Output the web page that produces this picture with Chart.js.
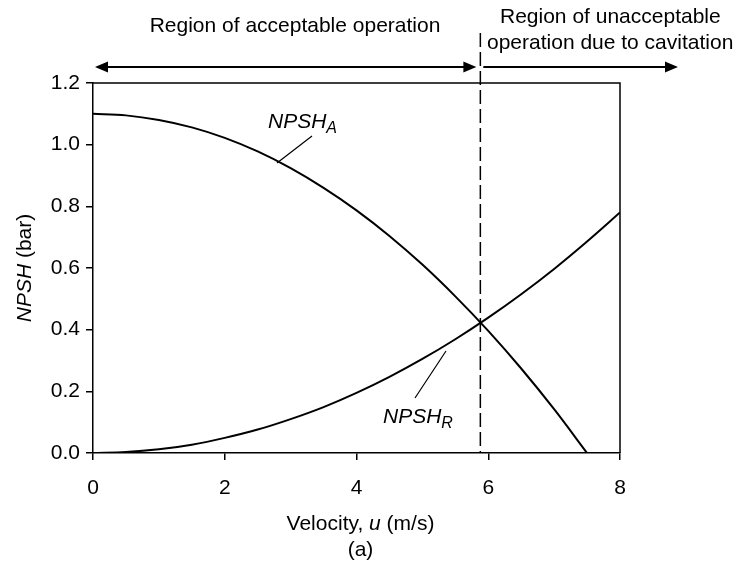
<!DOCTYPE html>
<html>
<head>
<meta charset="utf-8">
<script src="https://cdn.jsdelivr.net/npm/chart.js@4.4.0/dist/chart.umd.min.js"></script>
<style>
html,body{margin:0;padding:0;background:#fff;}
#wrap{width:750px;height:564px;position:relative;}
</style>
</head>
<body>
<div id="wrap"><canvas id="c" width="750" height="564"></canvas></div>
<script>
// Velocity (m/s)
const velocity = [0, 0.5, 1, 1.5, 2, 2.5, 3, 3.5, 4, 4.5, 5, 5.5, 6, 6.5, 7, 7.5, 8];
// NPSH available (bar)
const npshA = [1.100, 1.095, 1.080, 1.056, 1.022, 0.978, 0.924, 0.860, 0.787, 0.704, 0.611, 0.508, 0.396, 0.274, 0.142, 0.000];
// NPSH required (bar)
const npshR = [0.000, 0.003, 0.012, 0.027, 0.049, 0.076, 0.110, 0.149, 0.195, 0.247, 0.305, 0.369, 0.439, 0.515, 0.597, 0.686, 0.780];
const xTicks = [0, 2, 4, 6, 8];
const yTicks = [0.0, 0.2, 0.4, 0.6, 0.8, 1.0, 1.2];
const crossVelocity = 5.88;
const topLeftLabel = "Region of acceptable operation";
const topRightLabel = ["Region of unacceptable", "operation due to cavitation"];

const FONT = '"Liberation Sans", Arial, Helvetica, sans-serif';
const FS = 21;

const toPts = (ys) => ys.map((y, i) => ({x: velocity[i], y}));

function drawArrowHead(ctx, x, y, dir) {
  ctx.beginPath();
  ctx.moveTo(x, y);
  ctx.lineTo(x - dir * 13, y - 5.5);
  ctx.lineTo(x - dir * 13, y + 5.5);
  ctx.closePath();
  ctx.fill();
}

function subLabel(ctx, x, y, main, sub) {
  ctx.font = 'italic ' + FS + 'px ' + FONT;
  ctx.textAlign = 'left';
  ctx.textBaseline = 'alphabetic';
  ctx.fillText(main, x, y);
  const w = ctx.measureText(main).width;
  ctx.font = 'italic 16px ' + FONT;
  ctx.fillText(sub, x + w, y + 5);
}

const extras = {
  id: 'extras',
  afterDraw(chart) {
    const ctx = chart.ctx;
    const a = chart.chartArea;
    const xs = chart.scales.x;
    ctx.save();
    ctx.fillStyle = '#000';
    ctx.strokeStyle = '#000';
    // frame top and right
    ctx.lineWidth = 1.5;
    ctx.beginPath();
    ctx.moveTo(a.left, a.top);
    ctx.lineTo(a.right, a.top);
    ctx.lineTo(a.right, a.bottom);
    ctx.stroke();

    // dashed vertical line
    const xc = xs.getPixelForValue(crossVelocity);
    ctx.lineWidth = 1.5;
    ctx.setLineDash([14, 5]);
    ctx.beginPath();
    ctx.moveTo(xc, 33);
    ctx.lineTo(xc, a.bottom);
    ctx.stroke();
    ctx.setLineDash([]);

    // arrows
    const ay = 67;
    const xl = xs.getPixelForValue(0.03);
    const xr = xs.getPixelForValue(8.88);
    ctx.lineWidth = 2;
    ctx.beginPath();
    ctx.moveTo(xl + 4, ay); ctx.lineTo(xc - 8, ay);
    ctx.moveTo(xc + 3, ay); ctx.lineTo(xr - 4, ay);
    ctx.stroke();
    drawArrowHead(ctx, xl, ay, -1);
    drawArrowHead(ctx, xc - 4, ay, 1);
    drawArrowHead(ctx, xr, ay, 1);

    // top texts
    ctx.font = FS + 'px ' + FONT;
    ctx.textBaseline = 'middle';
    ctx.textAlign = 'center';
    ctx.fillText(topLeftLabel, 295, 26);
    ctx.textAlign = 'left';
    ctx.fillText(topRightLabel[0], 500, 17);
    ctx.fillText(topRightLabel[1], 487, 43);

    // curve labels and leaders
    ctx.lineWidth = 1.2;
    ctx.beginPath();
    ctx.moveTo(277, 163); ctx.lineTo(312, 136);
    ctx.moveTo(415, 398); ctx.lineTo(446, 351);
    ctx.stroke();
    subLabel(ctx, 268, 128, 'NPSH', 'A');
    subLabel(ctx, 383, 423, 'NPSH', 'R');

    // y axis title
    ctx.save();
    ctx.translate(25, (a.top + a.bottom) / 2);
    ctx.rotate(-Math.PI / 2);
    ctx.textBaseline = 'middle';
    ctx.font = 'italic ' + FS + 'px ' + FONT;
    const t1 = 'NPSH', t2 = ' (bar)';
    const w1 = ctx.measureText(t1).width;
    ctx.font = FS + 'px ' + FONT;
    const w2 = ctx.measureText(t2).width;
    const sx = -(w1 + w2) / 2;
    ctx.textAlign = 'left';
    ctx.font = 'italic ' + FS + 'px ' + FONT;
    ctx.fillText(t1, sx, 0);
    ctx.font = FS + 'px ' + FONT;
    ctx.fillText(t2, sx + w1, 0);
    ctx.restore();

    // x axis title
    const cx = (a.left + a.right) / 2 + 4;
    const parts = [['Velocity, ', ''], ['u', 'italic '], [' (m/s)', '']];
    let tw = 0;
    parts.forEach(p => { ctx.font = p[1] + FS + 'px ' + FONT; tw += ctx.measureText(p[0]).width; });
    let px = cx - tw / 2;
    ctx.textAlign = 'left';
    ctx.textBaseline = 'middle';
    parts.forEach(p => { ctx.font = p[1] + FS + 'px ' + FONT; ctx.fillText(p[0], px, 524); px += ctx.measureText(p[0]).width; });
    ctx.font = FS + 'px ' + FONT;
    ctx.textAlign = 'center';
    ctx.fillText('(a)', cx, 550);
    ctx.restore();
  }
};

new Chart(document.getElementById('c'), {
  type: 'scatter',
  data: {
    datasets: [
      {label: 'NPSH_A', data: toPts(npshA), showLine: true, borderColor: '#000', borderWidth: 2, pointRadius: 0, cubicInterpolationMode: 'monotone'},
      {label: 'NPSH_R', data: toPts(npshR), showLine: true, borderColor: '#000', borderWidth: 2, pointRadius: 0, cubicInterpolationMode: 'monotone'}
    ]
  },
  options: {
    responsive: false,
    animation: false,
    layout: {padding: {left: 0, top: 83, right: 130, bottom: 0}},
    plugins: {legend: {display: false}, tooltip: {enabled: false}},
    scales: {
      x: {
        type: 'linear', min: 0, max: 8,
        afterBuildTicks: (s) => { s.ticks = xTicks.map(v => ({value: v})); },
        afterFit: (s) => { s.height = 111; },
        grid: {display: true, drawOnChartArea: false, drawTicks: true, tickLength: 7, color: '#000', lineWidth: 1.5},
        border: {display: true, color: '#000', width: 1.5},
        ticks: {color: '#000', font: {family: FONT, size: FS}, padding: 16, maxRotation: 0, callback: (v) => String(v)}
      },
      y: {
        type: 'linear', min: 0, max: 1.2,
        afterBuildTicks: (s) => { s.ticks = yTicks.map(v => ({value: v})); },
        afterFit: (s) => { s.width = 93; },
        grid: {display: true, drawOnChartArea: false, drawTicks: true, tickLength: 7, color: '#000', lineWidth: 1.5},
        border: {display: true, color: '#000', width: 1.5},
        ticks: {color: '#000', font: {family: FONT, size: FS}, padding: 6, callback: (v) => Number(v).toFixed(1)}
      }
    }
  },
  plugins: [extras]
});
</script>
</body>
</html>
